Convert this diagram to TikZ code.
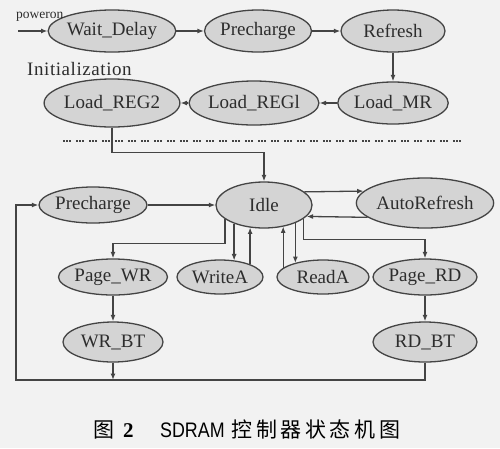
\documentclass[tikz,border=0pt]{standalone}
\usepackage{fontspec}
\setmainfont{Liberation Serif}
\newfontfamily\lblfont{Liberation Serif}
\newfontfamily\initfont[LetterSpace=3]{Liberation Serif}
\newfontfamily\capsans[FakeStretch=0.85]{Liberation Sans}
\newfontfamily\cjk{Noto Sans CJK SC}
\newfontfamily\cjkwide[LetterSpace=17]{Noto Sans CJK SC}
\usetikzlibrary{shapes.geometric,arrows.meta}
\definecolor{bgc}{RGB}{242,242,242}
\definecolor{fillc}{RGB}{212,212,212}
\definecolor{linec}{RGB}{68,68,68}
\definecolor{txtc}{RGB}{45,45,45}
\begin{document}
\begin{tikzpicture}[x=1pt,y=-1pt,
  stnode/.style={ellipse, draw=linec, fill=fillc, line width=1.3pt, inner sep=0pt,
    font=\lblfont\fontsize{19}{19}\selectfont, text=txtc},
  sz/.style 2 args={minimum width=#1pt, minimum height=#2pt},
  conn/.style={draw=linec, line width=1.3pt, -{Latex[length=6.5pt,width=5pt]}},
]
\fill[bgc] (0,0) rectangle (500,448);
\useasboundingbox (0,0) rectangle (500,448);

% top section
\node[stnode, sz={124}{42}] (wd)  at (112,31)  {Wait\_Delay};
\node[stnode, sz={106}{42}] (pc1) at (258,31)  {Precharge};
\node[stnode, sz={104}{42}] (rf)  at (393,31)  {Refresh};
\node[stnode, sz={106}{42}] (lmr) at (393,103) {Load\_MR};
\node[stnode, sz={122}{44}] (lr1) at (254,103) {Load\_REGl};
\node[stnode, sz={124}{48}] (lr2) at (112,103) {Load\_REG2};

\node[anchor=base west, inner sep=0pt, text=txtc, font=\fontsize{13.5}{13.5}\selectfont] (pw) at (16,18) {poweron};
\node[anchor=base west, inner sep=0pt, text=txtc, font=\initfont\fontsize{19}{19}\selectfont] (init) at (27,75) {Initialization};

\coordinate (pwin) at (18,31);
\draw[conn] (pwin) -- (wd);
\draw[conn] (wd) -- (pc1);
\draw[conn] (pc1) -- (rf);
\draw[conn] (rf) -- (lmr);
\draw[conn] (lmr) -- (lr1);
\draw[conn] (lr1) -- (lr2);

% dotted separator
\coordinate (d1) at (63,141);
\coordinate (d2) at (463,141);
\draw[linec, line width=1.8pt, dash pattern=on 2pt off 1pt on 2pt off 1pt on 2pt off 5pt] (d1) -- (d2);

% lower section
\node[stnode, sz={108}{36}] (pc2)  at (93,205)  {Precharge};
\node[stnode, sz={96}{46}]  (idle) at (264,205) {Idle};
\node[stnode, sz={124}{50}] (ar)   at (425,203) {AutoRefresh};
\node[stnode, sz={106}{36}] (pwr)  at (113,277) {Page\_WR};
\node[stnode, sz={86}{34}]  (wa)   at (220,277) {WriteA};
\node[stnode, sz={92}{34}]  (ra)   at (323,277) {ReadA};
\node[stnode, sz={104}{36}] (prd)  at (425,277) {Page\_RD};
\node[stnode, sz={100}{40}] (wbt)  at (113,342) {WR\_BT};
\node[stnode, sz={104}{40}] (rbt)  at (425,342) {RD\_BT};

\draw[conn] (lr2.south) -- ++(0,25) -| (idle.north);
\draw[conn] (pc2) -- (idle);
\draw[conn] (idle.18) -- (ar.169);
\draw[conn] (ar.194) -- (idle.-15);
\draw[conn] (idle.200) -- ++(0,24) -| (pwr.north);
\draw[conn] (idle.212) -- (idle.212 |- wa.47);
\draw[conn] (wa.23) -- (wa.23 |- idle.236);
\draw[conn] (ra.167) -- (ra.167 |- idle.-46);
\draw[conn] (idle.-30) -- (idle.-30 |- ra.154);
\draw[conn] (idle.-19) -- ++(0,21) -| (prd.north);
\draw[conn] (pwr) -- (wbt);
\draw[conn] (prd) -- (rbt);

\coordinate (bl) at (16,380);
\draw[conn] (wbt.south) -- (wbt.south |- bl);
\draw[conn] (rbt.south) |- (bl) |- (pc2.west);

% caption
\node[anchor=base west, inner sep=0pt, text=black] (cap1) at (93,437.5)
  {{\cjk\fontsize{21}{21}\selectfont 图}\hspace{9pt}{\fontsize{21}{21}\selectfont\bfseries 2}};
\node[anchor=base west, inner sep=0pt, text=black] (cap2) at (160,437.5)
  {{\capsans\fontsize{21}{21}\selectfont SDRAM}\hspace{7pt}{\cjkwide\fontsize{21}{21}\selectfont 控制器状态机图}};
\end{tikzpicture}
\end{document}
